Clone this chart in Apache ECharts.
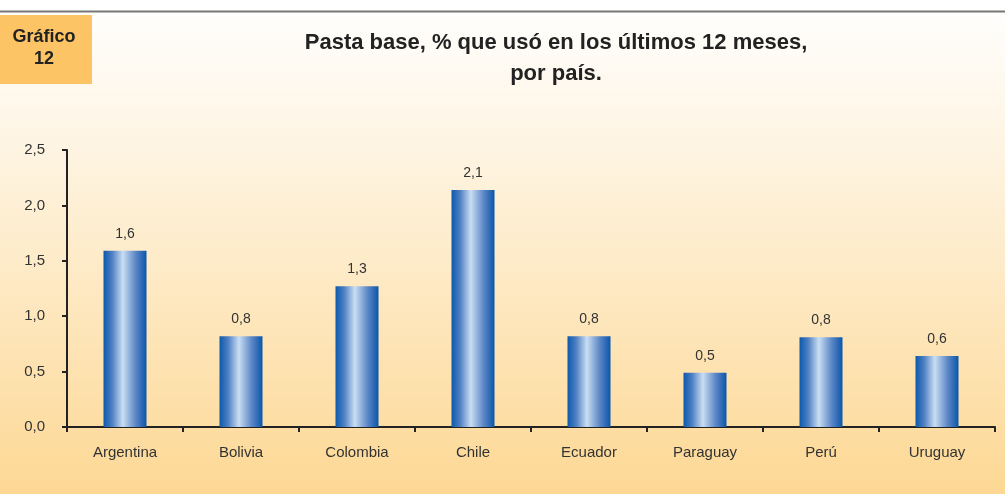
<!DOCTYPE html>
<html><head><meta charset="utf-8">
<script src="https://cdn.jsdelivr.net/npm/echarts@6/dist/echarts.min.js"></script>
<style>html,body{margin:0;padding:0;}#c{width:1005px;height:494px;}</style>
</head><body><div id="c"></div>
<script>
const categories = ['Argentina','Bolivia','Colombia','Chile','Ecuador','Paraguay','Perú','Uruguay'];
const values = [1.59, 0.82, 1.27, 2.14, 0.82, 0.49, 0.81, 0.64];
const yTicks = [0, 0.5, 1.0, 1.5, 2.0, 2.5];
const titleLines = ['Pasta base, % que usó en los últimos 12 meses,', 'por país.'];
const badge = ['Gráfico', '12'];

const chart = echarts.init(document.getElementById('c'));
const fmt = v => v.toFixed(1).replace('.', ',');
const FF = '"Liberation Sans", Arial, sans-serif';
chart.setOption({
  animation: false,
  backgroundColor: {
    type: 'linear', x: 0, y: 0, x2: 0, y2: 1,
    colorStops: [
      {offset: 0, color: '#ffffff'},
      {offset: 0.3, color: '#fef4e2'},
      {offset: 1, color: '#fdd894'}
    ]
  },
  graphic: [
    {type: 'rect', shape: {x: 0, y: 0, width: 1005, height: 11}, style: {fill: '#ffffff'}, z: 0},
    {type: 'line', shape: {x1: 0, y1: 11.5, x2: 1005, y2: 11.5}, style: {stroke: '#777777', lineWidth: 2}},
    {type: 'rect', shape: {x: 0, y: 15, width: 92, height: 69}, style: {fill: '#fdc465'}},
    {type: 'text', x: 44, y: 48, style: {text: badge.join('\n'), fill: '#222222', font: 'bold 18px ' + FF, align: 'center', verticalAlign: 'middle', lineHeight: 22}},
    {type: 'text', x: 556, y: 58, style: {text: titleLines.join('\n'), fill: '#222222', font: 'bold 22px ' + FF, align: 'center', verticalAlign: 'middle', lineHeight: 31}}
  ],
  grid: {left: 67, right: 10, top: 150, bottom: 67},
  xAxis: {
    type: 'category', data: categories, boundaryGap: true,
    axisLine: {lineStyle: {color: '#222222', width: 2}},
    axisTick: {show: true, length: 5, lineStyle: {color: '#222222', width: 2}},
    axisLabel: {color: '#333333', fontSize: 15, margin: 18, fontFamily: FF}
  },
  yAxis: {
    type: 'value', min: 0, max: 2.5, interval: 0.5,
    splitLine: {show: false},
    axisLine: {show: true, lineStyle: {color: '#222222', width: 2}},
    axisTick: {show: true, length: 5, lineStyle: {color: '#222222', width: 2}},
    axisLabel: {color: '#333333', fontSize: 15, margin: 22, formatter: v => yTicks.indexOf(v) >= 0 ? fmt(v) : '', fontFamily: FF}
  },
  series: [{
    type: 'bar', data: values, barWidth: 43,
    itemStyle: {
      color: {
        type: 'linear', x: 0, y: 0, x2: 1, y2: 0,
        colorStops: [
          {offset: 0, color: '#0b59ad'},
          {offset: 0.2, color: '#4f7fc2'},
          {offset: 0.45, color: '#c9def3'},
          {offset: 0.75, color: '#5b86c6'},
          {offset: 1, color: '#0a56a9'}
        ]
      }
    },
    label: {show: true, position: 'top', distance: 10, color: '#333333', fontSize: 14, fontFamily: FF, formatter: p => fmt(p.value)}
  }]
});
</script></body></html>
